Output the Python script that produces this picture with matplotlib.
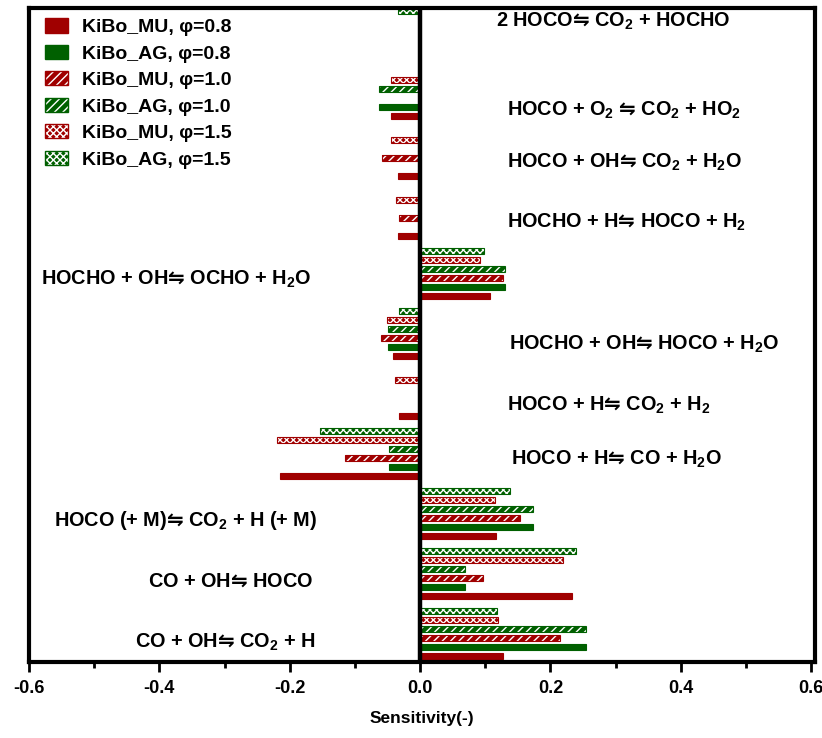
import numpy as np
import matplotlib
matplotlib.use('Agg')
import matplotlib.pyplot as plt
from matplotlib.patches import Patch

plt.rcParams['font.family'] = ['Liberation Sans', 'DejaVu Sans']
plt.rcParams['font.weight'] = 'bold'
plt.rcParams['mathtext.fontset'] = 'custom'
plt.rcParams['mathtext.rm'] = 'Liberation Sans:bold'
plt.rcParams['mathtext.bf'] = 'Liberation Sans:bold'
plt.rcParams['mathtext.sf'] = 'DejaVu Sans:bold'
plt.rcParams['mathtext.default'] = 'rm'

A = r'$\mathsf{⇋}$'  # arrow glyph from DejaVu

# reactions, bottom to top
reactions = ['CO + OH' + A + ' CO$_2$ + H',
             'CO + OH' + A + ' HOCO',
             'HOCO (+ M)' + A + ' CO$_2$ + H (+ M)',
             'HOCO + H' + A + ' CO + H$_2$O',
             'HOCO + H' + A + ' CO$_2$ + H$_2$',
             'HOCHO + OH' + A + ' HOCO + H$_2$O',
             'HOCHO + OH' + A + ' OCHO + H$_2$O',
             'HOCHO + H' + A + ' HOCO + H$_2$',
             'HOCO + OH' + A + ' CO$_2$ + H$_2$O',
             'HOCO + O$_2$ ' + A + ' CO$_2$ + HO$_2$',
             '2 HOCO' + A + ' CO$_2$ + HOCHO']

mu_08 = [0.128, 0.233, 0.117, -0.215, -0.032, -0.041, 0.108, -0.034, -0.034, -0.045, 0.0]
ag_08 = [0.255, 0.069, 0.174, -0.048, 0.0, -0.049, 0.131, 0.0, 0.0, -0.063, 0.0]
mu_10 = [0.214, 0.097, 0.153, -0.115, 0.0, -0.060, 0.128, -0.032, -0.058, 0.0, 0.0]
ag_10 = [0.255, 0.069, 0.174, -0.048, 0.0, -0.049, 0.131, 0.0, 0.0, -0.063, 0.0]
mu_15 = [0.120, 0.220, 0.115, -0.220, -0.038, -0.051, 0.092, -0.037, -0.045, -0.045, 0.0]
ag_15 = [0.118, 0.240, 0.138, -0.154, 0.0, -0.032, 0.098, 0.0, 0.0, 0.0, -0.034]

series = [mu_08, ag_08, mu_10, ag_10, mu_15, ag_15]
names = ['KiBo_MU, φ=0.8', 'KiBo_AG, φ=0.8', 'KiBo_MU, φ=1.0',
         'KiBo_AG, φ=1.0', 'KiBo_MU, φ=1.5', 'KiBo_AG, φ=1.5']

# label placement (left edge x, y center)
label_x = [-0.438, -0.418, -0.562, 0.140, 0.134, 0.137, -0.582, 0.134, 0.134, 0.134, 0.117]
label_y = [0.22, 1.25, 2.25, 3.28, 4.17, 5.2, 6.27, 7.22, 8.23, 9.1, 10.57]

red = '#a00000'
green = '#006000'
colors = [red, green, red, green, red, green]
hatches = [None, None, '////', '////', 'xxxxx', 'xxxxx']

fig = plt.figure(figsize=(8.22, 7.38), dpi=100)
ax = fig.add_axes([29/822, 76/738, 786/822, 654/738])

y = np.arange(len(reactions))
h = 0.11
step = 0.15
handles = []
for j, vals in enumerate(series):
    pos = y + j*step
    if hatches[j] is None:
        ax.barh(pos, vals, height=h, color=colors[j], edgecolor=colors[j], linewidth=0.8)
        handles.append(Patch(facecolor=colors[j], edgecolor=colors[j]))
    else:
        ax.barh(pos, vals, height=h, color=colors[j], edgecolor='white', hatch=hatches[j], linewidth=0)
        ax.barh(pos, vals, height=h, fill=False, edgecolor=colors[j], linewidth=0.8)
        handles.append((Patch(facecolor=colors[j], edgecolor='white', hatch=hatches[j], linewidth=0),
                        Patch(fill=False, edgecolor=colors[j], linewidth=1)))

for i, r in enumerate(reactions):
    ax.text(label_x[i], label_y[i], r, fontsize=14.3, fontweight='bold', va='center', ha='left')

ax.axvline(0, color='black', lw=3.2, zorder=5)

ax.set_xlim(-0.6, 0.606)
ax.set_ylim(-0.1, 10.8)
ax.set_yticks([])
ax.set_xticks(np.arange(-0.6, 0.61, 0.2))
ax.set_xticks(np.arange(-0.5, 0.6, 0.2), minor=True)
ax.set_xticklabels(['-0.6', '-0.4', '-0.2', '0.0', '0.2', '0.4', '0.6'], fontsize=13, fontweight='bold')
ax.tick_params(axis='x', which='major', length=7, width=2, pad=6)
ax.tick_params(axis='x', which='minor', length=4, width=2)
for s in ax.spines.values():
    s.set_linewidth(3)
ax.set_xlabel('Sensitivity(-)', fontsize=12.5, fontweight='bold', labelpad=10)

leg = ax.legend(handles, names, loc='upper left', bbox_to_anchor=(0.0, 1.008), frameon=False,
                prop={'size': 14, 'weight': 'bold'}, handlelength=1.2, handleheight=0.75,
                labelspacing=0.44, handletextpad=0.7, borderaxespad=0.4)

fig.savefig('out.png', dpi=100)
